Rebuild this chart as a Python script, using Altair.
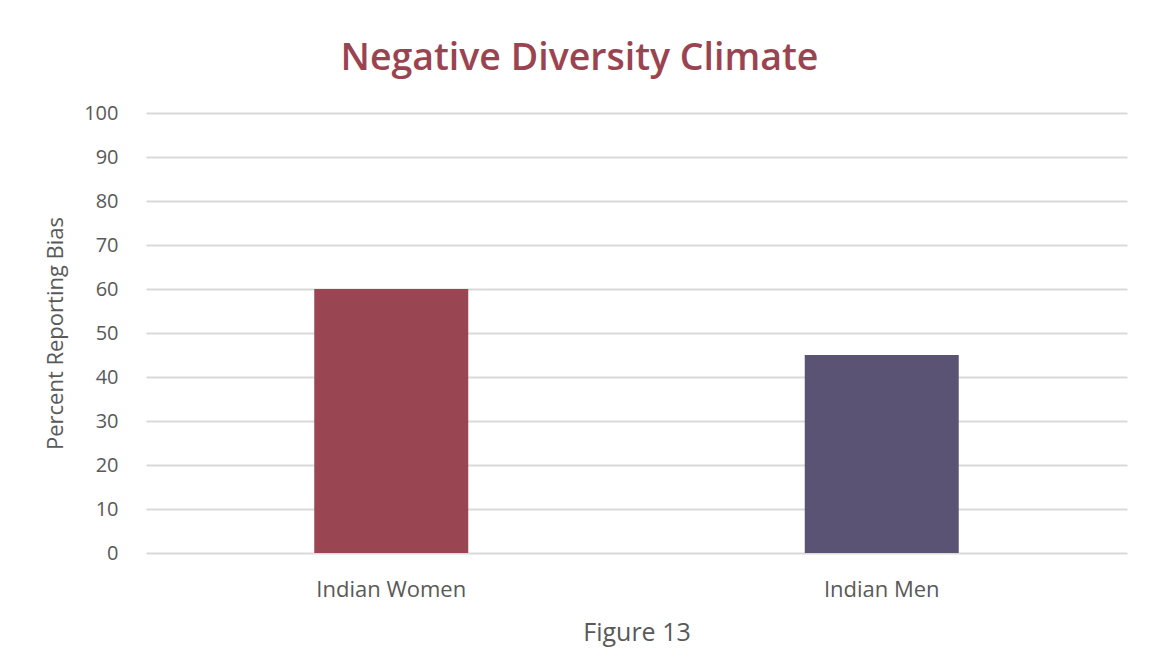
import altair as alt
import pandas as pd

categories = ["Indian Women", "Indian Men"]
values = [60, 45]
colors = ["#9a4652", "#5b5374"]

df = pd.DataFrame({"group": categories, "value": values, "color": colors})

chart = alt.Chart(df).mark_bar(size=154).encode(
    x=alt.X("group:N", sort=categories, scale=alt.Scale(paddingInner=0, paddingOuter=0),
            axis=alt.Axis(title="Figure 13", labelAngle=0, labelPadding=26, titlePadding=20,
                          domain=False, ticks=False, labelFontSize=22, titleFontSize=25,
                          labelColor="#595959", titleColor="#595959", titleFontWeight="normal",
                          labelFont="Open Sans", titleFont="Open Sans")),
    y=alt.Y("value:Q", scale=alt.Scale(domain=[0, 100]),
            axis=alt.Axis(title="Percent Reporting Bias", values=list(range(0, 101, 10)),
                          tickCount=11, labelPadding=28, titlePadding=16, domain=False, ticks=False,
                          labelFontSize=20, titleFontSize=22, labelColor="#595959",
                          titleColor="#595959", titleFontWeight="normal", gridColor="#d9d9d9",
                          gridWidth=2, labelFont="Open Sans", titleFont="Open Sans")),
    color=alt.Color("color:N", scale=None, legend=None),
).properties(
    width=981, height=440,
    title=alt.Title("Negative Diversity Climate", fontSize=37.5, font="Open Sans",
                    fontWeight=600, color="#9a4452", offset=26, dx=-57),
    padding={"left": 36, "top": 31, "right": 8, "bottom": 4},
    background="white",
).configure_view(strokeWidth=0)

chart.save("out.html", embed_options={"renderer": "svg", "actions": False})
